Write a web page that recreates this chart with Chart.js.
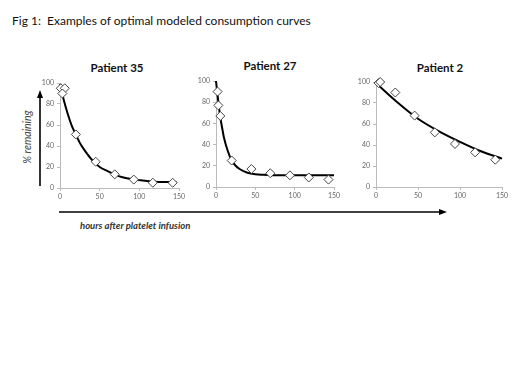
<!DOCTYPE html>
<html>
<head>
<meta charset="utf-8">
<script src="https://cdn.jsdelivr.net/npm/chart.js@4/dist/chart.umd.min.js"></script>
<style>
  html, body { margin: 0; padding: 0; background: #fff; }
  body { width: 520px; height: 390px; position: relative; overflow: hidden; font-family: Lato, "Liberation Sans", sans-serif; }
  canvas { position: absolute; }
  .t { position: absolute; white-space: nowrap; color: #111; }
  .ptitle { font-weight: bold; font-size: 11.5px; transform: translate(-50%, -50%); }
  svg { position: absolute; left: 0; top: 0; }
</style>
</head>
<body>
<div class="t" id="figTitle" style="left:12px; top:13px; font-size:12px;">Fig 1:&nbsp; Examples of optimal modeled consumption curves</div>
<div class="t ptitle" style="left:117px; top:67px;">Patient 35</div>
<div class="t ptitle" style="left:270px; top:65px;">Patient 27</div>
<div class="t ptitle" style="left:440px; top:67px;">Patient 2</div>
<div class="t" style="left:27px; top:137px; font-size:10.5px; font-style:italic; color:#444; transform:translate(-50%,-50%) rotate(-90deg);">% remaining</div>
<div class="t" style="left:80px; top:220px; font-size:9.5px; font-style:italic; font-weight:bold; color:#333;">hours after platelet infusion</div>
<svg width="520" height="390">
  <line x1="40" y1="186" x2="40" y2="97" stroke="#000" stroke-width="1.6"/>
  <polygon points="40,90 37,98 43,98" fill="#000"/>
  <line x1="59" y1="212" x2="440" y2="212" stroke="#000" stroke-width="1.6"/>
  <polygon points="447,212 439,209 439,215" fill="#000"/>
</svg>
<canvas id="c1"></canvas>
<canvas id="c2"></canvas>
<canvas id="c3"></canvas>
<script>
// ---- data ----
const xTicks = [0, 50, 100, 150];
const yTicks = [0, 20, 40, 60, 80, 100];

// Patient 35
const p35Hours    = [1, 6, 3, 20, 45, 69, 93, 117, 142];
const p35Observed = [95, 95, 90, 51, 25, 13, 8, 5, 5];
const p35CurveHours = [0, 5, 10, 15, 20, 25, 30, 40, 50, 60, 70, 80, 90, 100, 120, 147];
const p35CurveValues = [99, 83, 70, 59, 51, 43, 37, 27, 20, 16, 12.5, 10, 8.5, 7.5, 6, 5.5];

// Patient 27
const p27Hours    = [2, 3, 5.5, 20, 45, 69, 94, 118, 143];
const p27Observed = [90, 77, 67, 25, 17, 13, 11, 9, 7];
const p27CurveHours = [0, 3, 5, 8, 10, 15, 20, 25, 30, 40, 50, 60, 80, 150];
const p27CurveValues = [100, 80, 68, 55, 47, 34, 25, 20, 17, 13.5, 12, 11.5, 11, 11];

// Patient 2
const p2Hours    = [3, 5, 23, 46, 70, 94, 118, 142];
const p2Observed = [99, 100, 90, 68, 52, 41, 33, 26];
const p2CurveHours = [0, 25, 50, 75, 100, 125, 150];
const p2CurveValues = [99, 81, 65, 53, 43, 34, 27];

// ---- drawing ----
const pair = (xs, ys) => xs.map((x, i) => ({ x: x, y: ys[i] }));

function makePanel(id, axisX, x150, y100, y0, hours, obs, cHours, cVals) {
  const padTop = 10, yW = 40, xH = 16, padRight = 14;
  const plotW = x150 - axisX, plotH = y0 - y100;
  const cv = document.getElementById(id);
  const w = yW + plotW + padRight, h = padTop + plotH + xH;
  cv.style.left = (axisX - yW) + 'px';
  cv.style.top = (y100 - padTop) + 'px';
  cv.style.width = w + 'px';
  cv.style.height = h + 'px';
  cv.width = w; cv.height = h;
  const tickFont = { family: 'Lato, "Liberation Sans", sans-serif', size: 7 };
  new Chart(cv, {
    type: 'scatter',
    data: {
      datasets: [
        {
          data: pair(hours, obs),
          pointStyle: 'rectRot',
          pointRadius: 4.5,
          pointBackgroundColor: '#fff',
          pointBorderColor: '#444',
          pointBorderWidth: 1,
          showLine: false,
          clip: false,
          order: 0
        },
        {
          data: pair(cHours, cVals),
          showLine: true,
          borderColor: '#000',
          borderWidth: 2,
          pointRadius: 0,
          cubicInterpolationMode: 'monotone',
          clip: false,
          order: 1
        }
      ]
    },
    options: {
      responsive: false,
      animation: false,
      devicePixelRatio: 1,
      layout: { padding: { top: padTop, right: padRight, left: 0, bottom: 0 } },
      plugins: { legend: { display: false }, tooltip: { enabled: false }, title: { display: false } },
      scales: {
        x: {
          type: 'linear', min: 0, max: 150,
          afterBuildTicks: s => { s.ticks = xTicks.map(v => ({ value: v })); },
          afterFit: s => { s.height = xH; },
          grid: { display: true, drawOnChartArea: false, drawTicks: true, tickLength: 3, color: '#bbb' },
          border: { display: true, color: '#bbb', width: 1 },
          ticks: { font: tickFont, color: '#666', padding: 2, maxRotation: 0 }
        },
        y: {
          type: 'linear', min: 0, max: 100,
          afterBuildTicks: s => { s.ticks = yTicks.map(v => ({ value: v })); },
          afterFit: s => { s.width = yW; },
          grid: { display: true, drawOnChartArea: false, drawTicks: true, tickLength: 3, color: '#bbb' },
          border: { display: true, color: '#bbb', width: 1 },
          ticks: { font: tickFont, color: '#666', padding: 3 }
        }
      }
    }
  });
}

makePanel('c1', 60, 179, 83, 188, p35Hours, p35Observed, p35CurveHours, p35CurveValues);
makePanel('c2', 216, 334, 81, 187, p27Hours, p27Observed, p27CurveHours, p27CurveValues);
makePanel('c3', 376, 502, 82, 187, p2Hours, p2Observed, p2CurveHours, p2CurveValues);
</script>
</body>
</html>
